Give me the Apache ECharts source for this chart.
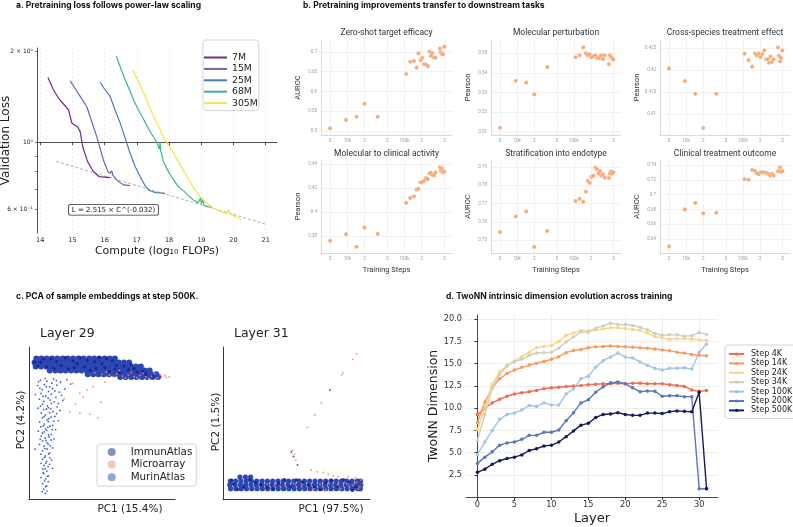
<!DOCTYPE html>
<html lang="en">
<head>
<meta charset="UTF-8">
<title>Pretraining figure</title>
<script src="https://cdn.jsdelivr.net/npm/echarts@6/dist/echarts.min.js"></script>
<style>body{margin:0;background:#fff}</style>
</head>
<body>
<div id="main" style="width:793px;height:527px;"></div>
<script>
// ---------- a. loss curves: [log10 FLOPs, validation loss] ----------
const sizeNames = ['7M', '15M', '25M', '68M', '305M'];
const loss7M = [[14.24,1.64],[14.4,1.5],[14.57,1.4],[14.75,1.33],[14.88,1.28],[14.98,1.16],[15.08,1.14],[15.16,1.127],[15.24,1.085],[15.32,0.967],[15.47,0.863],[15.65,0.8],[15.83,0.769],[16.17,0.763]];
const loss15M = [[14.93,1.6],[15.1,1.5],[15.24,1.42],[15.45,1.31],[15.6,1.17],[15.76,1.04],[15.96,0.874],[16.1,0.8],[16.17,0.789],[16.22,0.805],[16.25,0.78],[16.38,0.749],[16.59,0.722],[16.79,0.718]];
const loss25M = [[15.86,1.58],[16.0,1.5],[16.17,1.42],[16.3,1.3],[16.48,1.16],[16.6,1.06],[16.79,0.92],[16.95,0.83],[17.1,0.77],[17.25,0.72],[17.36,0.695],[17.5,0.685],[17.62,0.681],[17.88,0.677]];
const loss68M = [[16.36,1.93],[16.5,1.76],[16.64,1.61],[16.8,1.47],[16.9,1.38],[17.05,1.28],[17.21,1.19],[17.4,1.09],[17.57,1.02],[17.65,0.98],[17.7,0.95],[17.72,1.0],[17.74,0.94],[17.83,0.86],[17.95,0.81],[18.14,0.75],[18.3,0.71],[18.45,0.69],[18.6,0.665],[18.76,0.643],[18.9,0.63],[18.98,0.655],[19.0,0.625],[19.05,0.65],[19.08,0.618],[19.2,0.612],[19.33,0.61]];
const loss305M = [[16.87,1.74],[17.0,1.63],[17.21,1.46],[17.4,1.3],[17.62,1.16],[17.85,1.03],[18.14,0.92],[18.35,0.84],[18.55,0.77],[18.75,0.71],[18.96,0.66],[19.15,0.63],[19.38,0.604],[19.6,0.59],[19.79,0.58],[19.85,0.6],[19.88,0.58],[20.0,0.572],[20.15,0.56],[20.26,0.553]];
const fitLine = [[14.5,0.864],[21.0,0.535]];
const computeTicks = [14, 15, 16, 17, 18, 19, 20, 21];
const lossTicks = [0.6, 1, 2];
const lossTickLabels = ['6 × 10⁻¹', '10⁰', '2 × 10⁰'];
const lossMinorTicks = [0.5, 0.6, 0.7, 0.8, 0.9, 1, 2];

// ---------- b. downstream tasks vs training steps ----------
const trainingSteps = [5000,9500,14500,20000,34000,107000,126000,146000,163000,175000,190000,204000,220000,238000,257000,273000,288000,304000,326000,348000,415000,430000,450000,469000,496000];
const stepTicks = [5000, 10000, 20000, 50000, 100000, 200000, 500000];
const stepTickLabels = ['5', '10k', '2', '5', '100k', '2', '5'];
const taskTitles = ['Zero-shot target efficacy', 'Molecular perturbation', 'Cross-species treatment effect', 'Molecular to clinical activity', 'Stratification into endotype', 'Clinical treatment outcome'];
const taskMetrics = ['AUROC', 'Pearson', 'Pearson', 'Pearson', 'AUROC', 'AUROC'];
const zeroShot = [0.507,0.528,0.536,0.569,0.536, 0.644,0.675,0.677,0.660,0.696,0.679,0.685,0.669,0.668,0.664,0.701,0.690,0.697,0.686,0.685,0.708,0.699,0.695,0.694,0.713];
const molPerturb = [0.512,0.536,0.535,0.529,0.543, 0.548,0.549,0.553,0.550,0.549,0.5495,0.548,0.5485,0.549,0.5475,0.548,0.5475,0.549,0.547,0.549,0.5445,0.549,0.548,0.5478,0.5468];
const crossSpecies = [0.4204,0.4175,0.4146,0.4068,0.4146, 0.4238,0.4223,0.4208,0.4238,0.4234,0.4238,0.4230,0.4237,0.4245,0.4225,0.4225,0.4217,0.4231,0.4219,0.4225,0.4252,0.4233,0.4220,0.4228,0.4245];
const molClinical = [0.3758,0.3814,0.3708,0.3869,0.3816, 0.4076,0.4118,0.4132,0.4187,0.4195,0.4248,0.4251,0.4262,0.4284,0.4276,0.4323,0.4328,0.4311,0.4306,0.4330,0.4375,0.4345,0.4367,0.4331,0.4339];
const endotype = [0.7545,0.763,0.7657,0.7464,0.7551, 0.7714,0.7726,0.771,0.7766,0.7824,0.7813,0.7846,0.7853,0.7896,0.7887,0.7864,0.7876,0.7853,0.786,0.7842,0.784,0.7864,0.7876,0.7864,0.7871];
const clinOutcome = [0.6302,0.68,0.6889,0.6747,0.6756, 0.7209,0.72,0.7333,0.732,0.7289,0.7276,0.7302,0.7302,0.7302,0.7295,0.7284,0.7276,0.7258,0.728,0.7258,0.7315,0.732,0.7369,0.7305,0.7315];
const taskValues = [zeroShot, molPerturb, crossSpecies, molClinical, endotype, clinOutcome];
const taskYTicks = [[0.5,0.55,0.6,0.65,0.7],[0.51,0.52,0.53,0.54,0.55],[0.41,0.415,0.42,0.425],[0.38,0.4,0.42,0.44],[0.75,0.76,0.77,0.78,0.79],[0.64,0.66,0.68,0.7,0.72,0.74]];

// ---------- c. PCA clouds (relative PC units 0-100) ----------
const datasetNames = ['ImmunAtlas', 'Microarray', 'MurinAtlas'];
// dense blob rows: [pc2, [pc1 ...]]
const murin29Rows = [
  [92.4, [5,8.6,12.2,15.8,19.4,23.1,26.6,30.2,33.8,37.4,41.2,44.6,48.1,51.8,55.3,58.8]],
  [89.8, [3.8,7.4,11.1,14.6,18.2,21.9,25.4,29.2,32.6,36.3,40,43.4,47.1,50.6,54.3,57.8,61.4,65,68.6]],
  [87.1, [4.6,8.3,11.9,15.4,19.2,22.8,26.4,30.1,33.6,37.2,40.9,44.4,48,51.7,55.2,58.9,62.4,66.1,69.6,73.2,76.6]],
  [84.5, [14.2,18,21.6,25.1,28.8,32.4,36,39.6,43.2,46.8,50.4,54,57.6,61.2,64.8,68.4,72,75.6,79.2,82.6]],
  [82.1, [40.2,44,47.6,51.2,54.8,58.4,62,65.6,69.2,72.8,76.4,80,83.6,87.2]],
  [80.2, [62.5,66.2,70,73.6,77.4,81,84.6,88.4]]
];
const murin29Tail = [[7.8,78.2],[12.3,77.5],[16.9,79],[21.7,76.8],[26,78.5],[5.9,74.6],[10.4,75.3],[14.2,73.8],[19.1,74.9],[24.6,72.4],[9.1,71.9],[13.4,70.8],[16.2,72.6],[20.8,70.3],[4.3,68.7],[8.2,69.4],[11.5,67.6],[15.3,68.9],[18.4,66.8],[7.1,65.7],[10.2,64.2],[13.1,66.3],[17.2,63.9],[23.1,64.8],[9.3,62.4],[12.6,61.3],[15.4,62.8],[19.3,60.6],[6.2,59.7],[10.1,58.8],[13.3,60.1],[16.4,57.4],[21.2,58.3],[8.4,56.6],[11.2,55.1],[14.1,56.8],[17.8,54.3],[9.2,53.5],[12.4,52.1],[15.1,53.8],[20.1,51.6],[7.3,50.7],[10.5,49.3],[13.2,50.9],[16.3,48.5],[8.1,47.6],[11.3,46.2],[14.4,47.9],[18.2,45.7],[6.4,44.6],[9.2,43.3],[12.1,45.1],[15.3,42.4],[8.3,41.4],[11.1,40.2],[13.4,42.1],[17.1,39.5],[9.4,38.3],[12.2,37.1],[15.2,38.8],[7.2,35.9],[10.3,34.7],[13.1,36.2],[16.1,33.6],[4.1,32.8],[9.2,31.6],[12.4,32.9],[14.2,30.4],[8.1,29.5],[11.2,28.3],[14.3,27.1],[9.3,26.2],[12.1,24.8],[15.4,25.6],[8.2,23.5],[10.3,22.1],[13.1,21.3],[9.4,19.6],[12.2,18.4],[16.1,20.2],[10.2,16.7],[13.3,15.2],[8.1,14.1],[11.4,13.2],[13.2,11.4],[9.3,10.1],[12.1,8.6],[10.1,6.4],[12.3,5.2],[11.2,3.7],
  [6.5,77.1],[11.1,79.4],[15.6,76.2],[18.7,77.9],[28.5,75.6],[7.4,72.8],[11.8,73.9],[17.7,71.1],[22.4,68.2],[9.6,67.5],[14.4,65.1],[20.1,62.9],[7.9,61.1],[11.9,59.2],[14.8,59.4],[18.9,56.1],[10.3,54.2],[13.6,52.8],[16.9,51.2],[9.8,48.1],[12.9,47.2],[15.8,45.6],[10.4,44.1],[13.8,40.8],[7.7,39.2],[11.7,38.6],[14.6,35.1],[10.9,33.2],[13.4,29.6],[10.6,27.4],[11.6,23.6],[14.1,22.8],[11.1,19.9],[9.6,17.3],[12.6,14.9],[10.7,11.9],[11.4,8.1],[9.1,4.9]];
const immun29 = [[8,90],[15,92.5],[22,88],[30,91],[38,87],[45,90.5],[52,86.5],[60,88],[68,85],[12,87],[27,85.5],[35,93],[48,93],[57,91],[65,87.5],[74,83.5],[80,82],[42,84.5],[19,90.5],[6,87.5],[33,89],[55,84],[70,88.5],[85,81],[62,83],[10,92],[25,93],[40,91.5],[50,89],[17,86],[31,86.5],[46,86],[59,85.5],[72,85.8],[78,84],[4,90],[53,92.5]];
const micro29 = [[50,82],[55,81.5],[60,82.3],[64,80.8],[68,81.6],[72,80.5],[76,81.2],[80,80.2],[84,80.8],[88,79.8],[91,80.6],[94,79.9],[96,80.5],[62,84.5],[70,83.2],[78,82.8],[45,83],[86,82.4],[58,80.6],[74,79.7],[66,79.6],[82,79.3],[90,81.8],[93,81.2],[53,83.6],[34.8,69.5],[39.9,71.7],[49.2,63.6],[41.7,55.7],[47.4,53.5],[34.8,56.4],[31.8,62.3],[37.1,67.3],[27.9,57.4],[44,74],[30,76],[52,77],[24,66]];
const murin31Rows = [
  [11.8, [5,8.6,12.2,15.8,19.4,23,26.6,30.2,33.8,37.4,41,44.6,48.2,51.8,55.4,59,62.6,66.2,69.8,73.4,77,80.6,84.2,87.8,91.4,93.6]],
  [9.3, [4.6,8.2,11.8,15.4,19,22.6,26.2,29.8,33.4,37,40.6,44.2,47.8,51.4,55,58.6,62.2,65.8,69.4,73,76.6,80.2,83.8,87.4,91,93.8]],
  [6.8, [5.2,8.8,12.4,16,19.6,23.2,26.8,30.4,34,37.6,41.2,44.8,48.4,52,55.6,59.2,62.8,66.4,70,73.6,77.2,80.8,84.4,88,91.6,93.4]],
  [14.4, [11.5,15.2,18.8]]
];
const immun31 = [[7,10],[14,8],[22,11],[30,7.5],[38,10.5],[46,8],[54,11],[62,7.8],[70,10.8],[78,8.2],[86,11.2],[18,12.8],[34,6.5],[50,12.6],[66,6.2],[82,12.9],[10,6.2],[42,12.8],[58,9.2],[74,12.4],[26,9.5],[90,8],[6,12.5],[88,5.6]];
const micro31 = [[30,9.8],[36,10.2],[42,9.6],[48,10],[54,9.5],[60,10.3],[66,9.7],[72,10.1],[78,9.4],[84,10],[88,9],[91,11],[93,8],[94,12.5],[92,6.5],[90,13.8],[95,10],[62,6.6],[70,6.1],[80,6.8],[90.9,95.4],[88.2,91.9],[81.8,83.1],[80.7,81.8],[67,63.4],[62.5,55.3],[57.3,47.1],[47.3,32.2],[48.6,29.6],[49.5,25.7],[68.2,17.5],[71.6,16.4],[75,15.1],[78.4,14.7],[85.2,14.7],[60,19],[64,18]];
const murin31Out = [[72.7,71.7],[50.7,22.4],[48,28],[46.5,31]];

// ---------- d. TwoNN dimension per layer ----------
const stepNames = ['Step 4K', 'Step 14K', 'Step 24K', 'Step 34K', 'Step 100K', 'Step 200K', 'Step 500K'];
const layers = [0,1,2,3,4,5,6,7,8,9,10,11,12,13,14,15,16,17,18,19,20,21,22,23,24,25,26,27,28,29,30,31];
const dim4K = [9.3,10.0,10.6,11.0,11.35,11.6,11.75,11.85,12.0,12.2,12.3,12.35,12.45,12.5,12.55,12.65,12.7,12.75,12.75,12.8,12.75,12.8,12.8,12.75,12.75,12.75,12.65,12.55,12.45,12.05,11.9,12.0];
const dim14K = [8.4,10.7,12.3,13.3,13.9,14.3,14.6,14.85,15.05,15.25,15.5,15.8,16.25,16.5,16.6,16.8,16.9,16.95,17.0,16.95,16.9,16.85,16.8,16.75,16.65,16.55,16.45,16.3,16.2,16.05,15.95,15.9];
const dim24K = [7.6,10.0,12.7,14.1,14.8,15.3,15.8,16.3,16.8,16.95,17.05,17.5,18.2,18.45,18.75,18.7,18.8,18.9,19.05,19.05,18.95,18.85,18.75,18.45,18.05,17.9,17.75,17.8,17.8,17.75,17.7,17.6];
const dim34K = [6.4,9.3,12.3,13.8,14.75,15.25,15.5,15.95,16.2,16.25,16.3,16.75,17.45,18.0,18.6,18.55,19.0,19.25,19.55,19.4,19.4,19.3,19.1,18.8,18.4,18.2,18.25,18.25,18.1,18.15,18.5,18.3];
const dim100K = [4.8,6.2,7.5,8.75,9.3,9.45,9.8,10.3,10.2,10.6,10.35,10.35,11.6,12.2,13.3,13.6,14.6,15.35,15.75,16.2,15.75,15.65,15.2,14.8,14.5,14.3,14.5,14.5,14.55,14.4,16.3,17.2];
const dim200K = [3.8,4.5,5.1,5.85,6.1,6.2,6.5,6.95,6.95,7.3,7.3,7.55,8.6,9.5,10.6,10.95,11.8,12.4,12.85,12.95,12.75,12.3,11.85,11.95,11.9,11.35,11.4,11.4,11.3,11.3,0.95,0.95];
const dim500K = [2.8,3.15,3.7,4.1,4.35,4.5,4.75,5.25,5.45,5.75,5.85,6.2,6.8,7.45,8.1,8.3,8.95,9.3,9.35,9.5,9.3,9.2,9.2,9.45,9.45,9.4,9.6,9.7,9.65,9.6,11.8,0.95];
const stepDims = [dim4K, dim14K, dim24K, dim34K, dim100K, dim200K, dim500K];
const layerTicks = [0, 5, 10, 15, 20, 25, 30];
const dimTicks = [2.5, 5, 7.5, 10, 12.5, 15, 17.5, 20];

// ---------- styling ----------
const MPL = 'DejaVu Sans';
const SANS = 'Roboto';
const BOLD = 'Inter';
const sizeColors = ['#6e2f80', '#6867aa', '#4c7aae', '#3cb48a', '#f5e54a'];
const stepColors = ['#f26a4c', '#f89a5c', '#fdd387', '#cfcfbf', '#9fc5e8', '#5b77b7', '#141a5b'];
const setColors = { ImmunAtlas: '#1a1f71', Microarray: '#f58a6d', MurinAtlas: '#2b47b5' };
const orange = '#f6a068';

const chart = echarts.init(document.getElementById('main'));

const grids = [], xAxes = [], yAxes = [], series = [];
const noBounds = { outerBoundsMode: 'none', containLabel: false };

// panel a
grids.push(Object.assign({ left: 37, top: 48, width: 240, height: 185 }, noBounds));
xAxes.push({
  gridIndex: 0, type: 'value', min: 13.9, max: 21.35,
  axisLine: { lineStyle: { color: '#222', width: 0.8 } },
  axisTick: { customValues: computeTicks, length: 3, lineStyle: { color: '#222', width: 0.8 } },
  axisLabel: { customValues: computeTicks, fontSize: 6.5, color: '#222', fontFamily: MPL, margin: 4 },
  splitLine: { show: true, lineStyle: { type: [2, 2], color: '#e2e2e2', width: 0.6 } },
  name: 'Compute (log₁₀ FLOPs)', nameLocation: 'middle', nameGap: 13, nameMoveOverlap: false,
  nameTextStyle: { fontSize: 11, fontFamily: MPL, color: '#222' }
});
yAxes.push({
  gridIndex: 0, type: 'value', min: -0.301, max: 0.313,
  axisLine: { show: true, lineStyle: { color: '#222', width: 0.8 } },
  axisTick: { show: true, customValues: lossMinorTicks.map(Math.log10), length: 2, lineStyle: { color: '#222', width: 0.6 } },
  axisLabel: {
    customValues: lossTicks.map(Math.log10), fontSize: 6, color: '#222', fontFamily: MPL, margin: 4,
    formatter: v => lossTickLabels[lossTicks.findIndex(t => Math.abs(Math.log10(t) - v) < 1e-6)] || ''
  },
  splitLine: { show: false },
  name: 'Validation Loss', nameLocation: 'middle', nameGap: 25, nameMoveOverlap: false,
  nameTextStyle: { fontSize: 12, fontFamily: MPL, color: '#222' }
});
series.push({
  type: 'line', name: 'fit', xAxisIndex: 0, yAxisIndex: 0, silent: true, showSymbol: false,
  data: fitLine.map(p => [p[0], Math.log10(p[1])]),
  lineStyle: { color: '#9a9a9a', width: 0.8, type: [3, 2] }, z: 1
});
[loss7M, loss15M, loss25M, loss68M, loss305M].forEach((curve, i) => {
  series.push({
    type: 'line', name: sizeNames[i], xAxisIndex: 0, yAxisIndex: 0, showSymbol: false, silent: true,
    data: curve.map(p => [p[0], Math.log10(p[1])]),
    color: sizeColors[i], lineStyle: { color: sizeColors[i], width: 1.2 }, z: 2
  });
});

// panel b
const bLeft = [321, 491, 660], bTop = [40, 160], bW = [131, 130, 130], bH = [95, 93];
const bYRange = [[0.49, 0.73], [0.5083, 0.5568], [0.4052, 0.4269], [0.3656, 0.4436], [0.7431, 0.7938], [0.6213, 0.7467]];
const graphics = [];
taskTitles.forEach((title, k) => {
  const col = k % 3, row = Math.floor(k / 3), gi = grids.length;
  grids.push(Object.assign({ left: bLeft[col], top: bTop[row], width: bW[col], height: bH[row] }, noBounds));
  xAxes.push({
    gridIndex: gi, type: 'value', min: 3.54, max: 5.83,
    axisLine: { lineStyle: { color: '#d0d0d0', width: 0.8 } },
    axisTick: { show: false, customValues: stepTicks.map(Math.log10) },
    axisLabel: {
      customValues: stepTicks.map(Math.log10), fontSize: 4.5, color: '#9a9a9a', fontFamily: SANS, margin: 3,
      formatter: v => stepTickLabels[stepTicks.findIndex(t => Math.abs(Math.log10(t) - v) < 1e-6)] || ''
    },
    splitLine: { show: true, lineStyle: { color: '#ececec', width: 0.7 } },
    name: row === 1 ? 'Training Steps' : '', nameLocation: 'middle', nameGap: 13, nameMoveOverlap: false,
    nameTextStyle: { fontSize: 7.5, fontFamily: SANS, color: '#333' }
  });
  yAxes.push({
    gridIndex: gi, type: 'value', min: bYRange[k][0], max: bYRange[k][1],
    axisLine: { show: true, lineStyle: { color: '#d0d0d0', width: 0.8 } },
    axisTick: { show: false, customValues: taskYTicks[k] },
    axisLabel: {
      customValues: taskYTicks[k], fontSize: 4.5, color: '#9a9a9a', fontFamily: SANS, margin: 4,
      formatter: v => String(+v.toFixed(3))
    },
    splitLine: { show: true, lineStyle: { color: '#ececec', width: 0.7 } },
    name: taskMetrics[k], nameLocation: 'middle', nameGap: 19, nameMoveOverlap: false,
    nameTextStyle: { fontSize: 7.5, fontFamily: SANS, color: '#333' }
  });
  series.push({
    type: 'scatter', name: 'task' + k, xAxisIndex: gi, yAxisIndex: gi, silent: true,
    data: taskValues[k].map((v, i) => [Math.log10(trainingSteps[i]), v]),
    symbolSize: 4.2, itemStyle: { color: orange, opacity: 0.9, borderColor: '#fff', borderWidth: 0.3 }
  });
  graphics.push({
    type: 'text', x: bLeft[col] + bW[col] / 2, y: row === 0 ? 33 : 154,
    style: { text: title, fill: '#333', font: '8.5px ' + SANS, align: 'center', verticalAlign: 'middle' }
  });
});

// panel c
const cGrid = [{ left: 29, top: 347, width: 146, height: 152 }, { left: 223, top: 347, width: 147, height: 152 }];
cGrid.forEach(g => {
  const gi = grids.length;
  grids.push(Object.assign({}, g, noBounds));
  xAxes.push({ gridIndex: gi, type: 'value', min: 0, max: 100, axisLine: { lineStyle: { color: '#222', width: 0.9 } }, axisTick: { show: false }, axisLabel: { show: false }, splitLine: { show: false } });
  yAxes.push({ gridIndex: gi, type: 'value', min: 0, max: 100, axisLine: { show: true, lineStyle: { color: '#222', width: 0.9 } }, axisTick: { show: false }, axisLabel: { show: false }, splitLine: { show: false } });
});
const c29 = grids.length - 2, c31 = grids.length - 1;
const rowsToPoints = rows => rows.flatMap(r => r[1].map(x => [x, r[0]]));
function pca(name, gi, data, size, opacity, z) {
  series.push({
    type: 'scatter', name, xAxisIndex: gi, yAxisIndex: gi, silent: true, data, symbolSize: size, z,
    itemStyle: { color: setColors[name], opacity }
  });
}
pca('MurinAtlas', c29, rowsToPoints(murin29Rows), 6, 1, 2);
pca('MurinAtlas', c29, murin29Tail, 1.8, 0.85, 2);
pca('ImmunAtlas', c29, immun29, 3, 0.85, 3);
pca('Microarray', c29, micro29, 2, 0.8, 4);
pca('MurinAtlas', c31, rowsToPoints(murin31Rows), 5.2, 1, 2);
pca('MurinAtlas', c31, murin31Out, 2, 0.85, 2);
pca('ImmunAtlas', c31, immun31, 3, 0.85, 3);
pca('Microarray', c31, micro31, 2, 0.8, 4);

// panel d
const dGi = grids.length;
grids.push(Object.assign({ left: 466, top: 315, width: 252, height: 182 }, noBounds));
xAxes.push({
  gridIndex: dGi, type: 'value', min: -1.55, max: 32.55,
  axisLine: { lineStyle: { color: '#333', width: 0.9 } },
  axisTick: { customValues: layerTicks, length: 3, lineStyle: { color: '#333' } },
  axisLabel: { customValues: layerTicks, fontSize: 8.2, color: '#333', fontFamily: MPL, margin: 4 },
  splitLine: { show: true, lineStyle: { color: '#e8e8e8', width: 0.8 } },
  name: 'Layer', nameLocation: 'middle', nameGap: 15, nameMoveOverlap: false,
  nameTextStyle: { fontSize: 13, fontFamily: MPL, color: '#222' }
});
yAxes.push({
  gridIndex: dGi, type: 'value', min: 0.02, max: 20.48,
  axisLine: { show: true, lineStyle: { color: '#333', width: 0.9 } },
  axisTick: { show: true, customValues: dimTicks, length: 3, lineStyle: { color: '#333' } },
  axisLabel: { customValues: dimTicks, fontSize: 8.2, color: '#333', fontFamily: MPL, margin: 4, formatter: v => v.toFixed(1) },
  splitLine: { show: true, lineStyle: { color: '#e8e8e8', width: 0.8 } },
  name: 'TwoNN Dimension', nameLocation: 'middle', nameGap: 26, nameMoveOverlap: false,
  nameTextStyle: { fontSize: 12.5, fontFamily: MPL, color: '#222' }
});
stepDims.forEach((vals, i) => {
  series.push({
    type: 'line', name: stepNames[i], xAxisIndex: dGi, yAxisIndex: dGi, silent: true,
    data: vals.map((v, j) => [layers[j], v]),
    symbol: 'circle', symbolSize: 3.5, showSymbol: true,
    color: stepColors[i], itemStyle: { color: stepColors[i] },
    lineStyle: { color: stepColors[i], width: 1.4 }
  });
});

// titles and annotations
const titleFont = '700 8.5px ' + BOLD;
graphics.push(
  { type: 'text', left: 16, top: 1, style: { text: 'a. Pretraining loss follows power-law scaling', font: titleFont, fill: '#111' } },
  { type: 'text', left: 303, top: 1, style: { text: 'b. Pretraining improvements transfer to downstream tasks', font: titleFont, fill: '#111' } },
  { type: 'text', left: 16, top: 292, style: { text: 'c. PCA of sample embeddings at step 500K.', font: titleFont, fill: '#111' } },
  { type: 'text', left: 446, top: 292, style: { text: 'd. TwoNN intrinsic dimension evolution across training', font: titleFont, fill: '#111' } },
  { type: 'text', left: 205, top: 42, style: { text: 'Model size', font: '9px ' + MPL, fill: '#222' } },
  { type: 'text', left: 68, top: 204, z: 10, style: { text: 'L = 2.515 × C^(-0.032)', font: '7px ' + MPL, fill: '#222', backgroundColor: '#fff', borderColor: '#333', borderWidth: 0.8, borderRadius: 2, padding: [1.5, 3] } },
  { type: 'text', left: 40, top: 327, style: { text: 'Layer 29', font: '12.5px ' + MPL, fill: '#222' } },
  { type: 'text', left: 234, top: 327, style: { text: 'Layer 31', font: '12.5px ' + MPL, fill: '#222' } },
  { type: 'text', x: 130, y: 509, style: { text: 'PC1 (15.4%)', font: '10.5px ' + MPL, fill: '#222', align: 'center', verticalAlign: 'middle' } },
  { type: 'text', x: 331, y: 509, style: { text: 'PC1 (97.5%)', font: '10.5px ' + MPL, fill: '#222', align: 'center', verticalAlign: 'middle' } },
  { type: 'text', x: 21, y: 420, rotation: Math.PI / 2, style: { text: 'PC2 (4.2%)', font: '10.5px ' + MPL, fill: '#222', align: 'center', verticalAlign: 'middle' } },
  { type: 'text', x: 216, y: 422, rotation: Math.PI / 2, style: { text: 'PC2 (1.5%)', font: '10.5px ' + MPL, fill: '#222', align: 'center', verticalAlign: 'middle' } }
);

chart.setOption({
  animation: false,
  backgroundColor: '#fff',
  grid: grids, xAxis: xAxes, yAxis: yAxes, series,
  legend: [
    {
      data: sizeNames, orient: 'vertical', left: 203, top: 40, icon: 'rect', itemWidth: 23, itemHeight: 2, itemGap: 2.4,
      padding: [13, 1, 3, 1], borderColor: '#ccc', borderWidth: 0.8, borderRadius: 3, backgroundColor: '#fff',
      textStyle: { fontSize: 9.3, fontFamily: MPL, color: '#222' }, selectedMode: false
    },
    {
      data: datasetNames, orient: 'vertical', left: 97, top: 444, icon: 'circle', itemWidth: 8, itemHeight: 8, itemGap: 2.6,
      padding: [3, 4, 4, 10.7], borderColor: '#ccc', borderWidth: 0.8, borderRadius: 3, backgroundColor: '#fff',
      itemStyle: { opacity: 0.5 },
      textStyle: { fontSize: 10.3, fontFamily: MPL, color: '#222', padding: [0, 0, 0, 10] }, selectedMode: false
    },
    {
      data: stepNames, orient: 'vertical', left: 725, top: 345, itemWidth: 15, itemHeight: 4, itemGap: 1.4,
      padding: [5, 8, 4, 3], borderColor: '#ccc', borderWidth: 0.8, borderRadius: 3, backgroundColor: '#fff',
      textStyle: { fontSize: 8, fontFamily: MPL, color: '#222', padding: [0, 0, 0, 2] }, selectedMode: false
    }
  ],
  graphic: graphics
});
</script>
</body>
</html>
